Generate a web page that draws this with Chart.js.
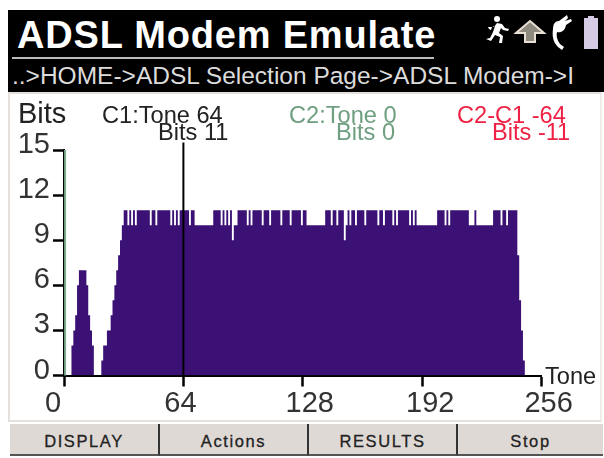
<!DOCTYPE html>
<html><head><meta charset="utf-8">
<script src="https://cdn.jsdelivr.net/npm/chart.js@4"></script>
<style>
html,body{margin:0;padding:0;background:#fff;width:604px;height:458px;overflow:hidden;font-family:"Liberation Sans",Arial,sans-serif}
.t{position:absolute;white-space:nowrap;line-height:1}
#hdr{position:absolute;left:8px;top:10px;width:596px;height:82px;background:#000}
#rule{position:absolute;left:12px;top:56.5px;width:422px;height:2px;background:#bbb}
#panel{position:absolute;left:8px;top:92px;width:594px;height:330px;border:2px solid #e6e0dc;border-right-color:#f0ecea;box-sizing:border-box;background:#fff}
canvas{position:absolute;left:0;top:0}
.btn{position:absolute;top:424px;height:32px;background:#dfd9d5;color:#222;font-size:16.5px;text-align:center;line-height:34px;letter-spacing:1.6px;border-right:2px solid #333;border-bottom:2px solid #555;box-sizing:border-box;-webkit-text-stroke:.3px #222}
</style></head><body>
<div id="hdr"></div><div id="rule"></div><div id="panel"></div>
<div class="t" style="left:17px;top:16px;font-size:38px;font-weight:bold;color:#fff;letter-spacing:.8px">ADSL Modem Emulate</div>
<div class="t" style="left:12px;top:64px;font-size:24.5px;color:#dcdcdc">..&gt;HOME-&gt;ADSL Selection Page-&gt;ADSL Modem-&gt;I</div>
<svg style="position:absolute;left:480px;top:12px" width="122" height="40" viewBox="0 0 122 40">
<g fill="#fff"><circle cx="17" cy="7" r="3"/><path d="M8 15h6l3-4 5 1 3 4 4 1-1 2-5-1-2-2-2 5 4 3-1 7-3 0 1-6-5-2-4 6-5-2 4-1 3-6 2-6-3 1-1 3-2-1z"/></g>
<path d="M45 30 L45 21 L36 21 L50 9 L64 21 L55 21 L55 30 Z" fill="#8f8a80" stroke="#e8e0d4" stroke-width="2"/>
<path d="M79 9 l8-6 1 3-3 3 6-2 1 2-6 4c-1 6-5 8-9 7-1 4 0 8 3 12l4 3-2 3-4-3c-5-5-6-11-5-18 0-5 2-8 6-8z" fill="#fff"/>
<rect x="104" y="6" width="14" height="31" fill="#d5cbe4"/><rect x="108" y="4" width="6" height="2" fill="#d5cbe4"/>
</svg>
<canvas id="c" width="604" height="458"></canvas>
<div class="t" style="left:18px;top:99px;font-size:29px;color:#222">Bits</div>
<div class="t" style="left:102px;top:104px;font-size:23.6px;color:#222">C1:Tone 64</div>
<div class="t" style="left:158px;top:121px;font-size:23.6px;color:#222">Bits 11</div>
<div class="t" style="left:289px;top:104px;font-size:23.6px;color:#6f9f80">C2:Tone 0</div>
<div class="t" style="left:336px;top:121px;font-size:23.6px;color:#6f9f80">Bits 0</div>
<div class="t" style="left:457px;top:104px;font-size:23.6px;color:#ee2244">C2-C1 -64</div>
<div class="t" style="left:492px;top:121px;font-size:23.6px;color:#ee2244">Bits -11</div>
<div class="t" style="left:545px;top:365px;font-size:23.6px;color:#222">Tone</div>
<div class="btn" style="left:10px;width:150px">DISPLAY</div>
<div class="btn" style="left:160px;width:149px">Actions</div>
<div class="btn" style="left:309px;width:149px">RESULTS</div>
<div class="btn" style="left:458px;width:145px;border-right:none">Stop</div>
<script>
const bits = [
0,0,0,0,2,3,4,6,7,7,7,7,6,4,3,2,
0,0,0,0,1,2,2,3,3,4,5,6,7,8,9,10,
11,11,10,11,10,11,10,11,11,11,11,11,11,11,10,11,
11,10,11,11,11,11,11,11,11,10,11,10,11,10,11,11,
11,11,11,10,11,11,10,10,10,10,10,10,10,10,10,10,
11,11,11,11,10,11,10,11,10,11,9,10,10,11,11,11,
11,11,10,11,10,11,11,11,11,11,10,11,11,11,10,11,
11,11,11,11,10,11,11,11,11,10,11,11,11,11,11,10,
11,11,10,10,10,10,10,10,10,10,10,10,11,11,11,10,
11,11,10,11,11,11,9,10,11,10,11,11,10,11,11,11,
11,10,11,11,11,11,11,11,10,11,11,10,11,11,11,11,
10,11,10,11,11,11,11,11,11,10,11,10,11,10,10,10,
10,10,10,10,10,10,10,10,11,11,11,11,10,11,10,11,
11,11,11,11,11,11,11,11,11,10,10,10,11,10,10,10,
10,10,10,10,10,10,11,11,11,11,10,11,11,10,11,11,
11,11,11,8,5,3,1,0,0,0,0,0,0,0,0,0];
const cursorC1 = [64, 64];
const cursorC2 = [0.6, 0.6];
const cursorSpan = [0, 15.5];
const cursorC2Span = [0, 15];
const xTicks = [0, 64, 128, 192, 256];
const yTicks = [0, 3, 6, 9, 12, 15];
const xLabelShift = [-11, -3, 7, 8, 7];
const yLabelShift = -5;
const nudge = {
  id:'nudge',
  beforeDraw(chart){
    const xs = chart.scales.x, ys = chart.scales.y;
    const xi = xs.getLabelItems(chart.chartArea), yi = ys.getLabelItems(chart.chartArea);
    if(!xi._done){ xi.forEach((it,i)=>{it.options.translation[0]+=xLabelShift[i]||0;}); xi._done=true; }
    if(!yi._done){ yi.forEach(it=>{it.options.translation[1]+=yLabelShift;}); yi._done=true; }
  }
};
new Chart(document.getElementById('c'),{
  type:'line',
  plugins:[nudge],
  data:{datasets:[
    {label:'C1',data:cursorSpan.map((y,i)=>({x:cursorC1[i],y})),borderColor:'#000',borderWidth:2,pointRadius:0,clip:false,order:0},
    {label:'C2',data:cursorC2Span.map((y,i)=>({x:cursorC2[i],y})),borderColor:'#7fae90',borderWidth:2,pointRadius:0,clip:false,order:0},
    {label:'Bits',data:bits.map((y,i)=>({x:i,y})),stepped:'before',fill:'origin',backgroundColor:'#3b1175',borderColor:'#3b1175',borderWidth:0,pointRadius:0,order:1}
  ]},
  options:{
    responsive:false,animation:false,
    layout:{padding:{left:0,right:62.4,top:150,bottom:0}},
    plugins:{legend:{display:false},title:{display:false},tooltip:{enabled:false}},
    scales:{
      x:{type:'linear',min:0,max:256,offset:false,
        afterFit(s){s.height=82.5;},
        grid:{display:true,offset:false,drawOnChartArea:false,drawTicks:true,tickLength:11,tickWidth:2.5,tickColor:'#000'},
        border:{color:'#000',width:2},
        afterBuildTicks(s){s.ticks=xTicks.map(value=>({value}));},
        ticks:{autoSkip:false,maxRotation:0,color:'#333',font:{family:'"Liberation Sans"',size:29},padding:0}},
      y:{type:'linear',min:0,max:15,
        afterFit(s){s.width=64;},
        grid:{display:true,offset:false,drawOnChartArea:false,drawTicks:true,tickLength:11,tickWidth:2.5,tickColor:'#000'},
        border:{color:'#000',width:2},
        afterBuildTicks(s){s.ticks=yTicks.map(value=>({value}));},
        ticks:{autoSkip:false,color:'#333',font:{family:'"Liberation Sans"',size:29},padding:3}}
    }
  }
});
</script>
</body></html>
